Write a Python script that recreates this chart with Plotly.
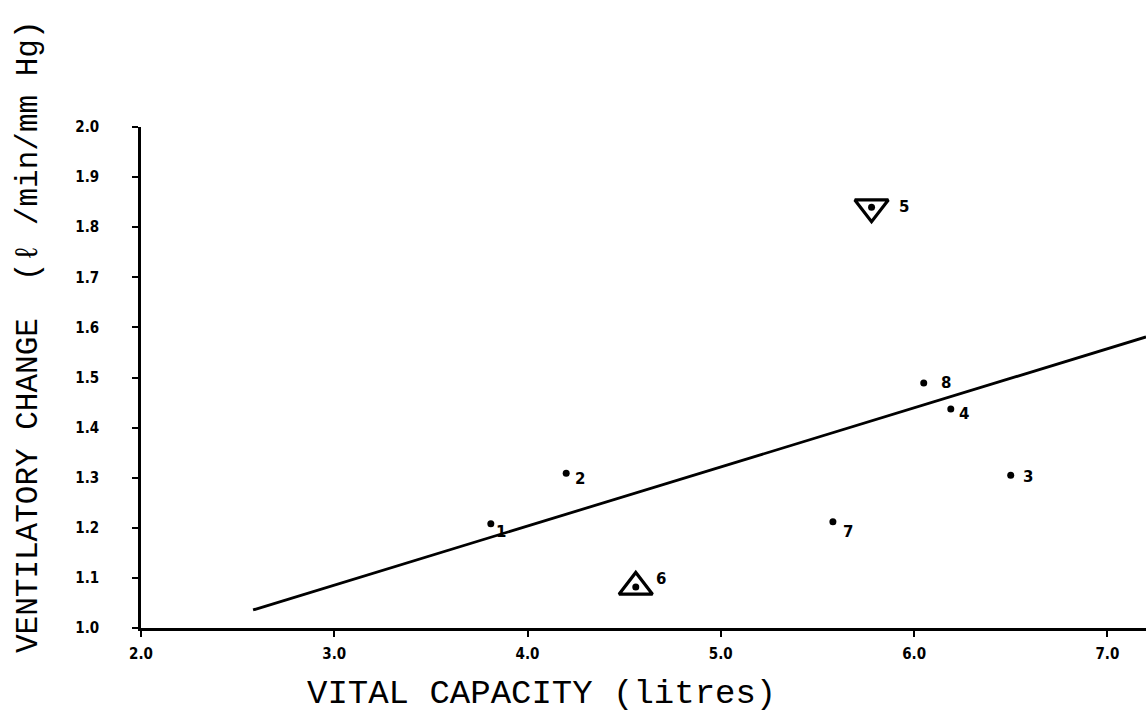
import plotly.graph_objects as go

# ---- data ----
subjects = ["1", "2", "3", "4", "5", "6", "7", "8"]
vital_capacity = [3.81, 4.20, 6.50, 6.19, 5.78, 4.56, 5.58, 6.05]
vent_change = [1.208, 1.309, 1.305, 1.437, 1.840, 1.082, 1.212, 1.489]
marker_kind = ["dot", "dot", "dot", "dot", "down", "up", "dot", "dot"]

fit_x = [2.58, 7.20]
fit_y = [1.036, 1.581]

x_ticks = [2.0, 3.0, 4.0, 5.0, 6.0, 7.0]
x_tick_text = ["2.0", "3.0", "4.0", "5.0", "6.0", "7.0"]
y_ticks = [1.0, 1.1, 1.2, 1.3, 1.4, 1.5, 1.6, 1.7, 1.8, 1.9, 2.0]
y_tick_text = ["1.0", "1.1", "1.2", "1.3", "1.4", "1.5", "1.6", "1.7", "1.8", "1.9", "2.0"]

# label offsets (style, in pixels)
label_dx = [10, 14, 17, 13, 32, 25, 15, 22]
label_dy = [-8, -6, -2, -5, 0, 8, -10, 0]

MONO = "Liberation Mono, Courier New, monospace"

fig = go.Figure()

fig.add_trace(go.Scatter(
    x=fit_x, y=fit_y, mode="lines",
    line=dict(color="black", width=2.8),
    hoverinfo="skip", showlegend=False,
))

# triangles around subjects 5 and 6
for kind, sym in (("down", "triangle-down-open"), ("up", "triangle-up-open")):
    xs = [x for x, k in zip(vital_capacity, marker_kind) if k == kind]
    ys = [y for y, k in zip(vent_change, marker_kind) if k == kind]
    fig.add_trace(go.Scatter(
        x=xs, y=ys, mode="markers",
        marker=dict(symbol=sym, size=29, color="black",
                    line=dict(color="black", width=3.2)),
        showlegend=False, hoverinfo="skip",
    ))

fig.add_trace(go.Scatter(
    x=vital_capacity, y=vent_change, mode="markers",
    marker=dict(symbol="circle", size=7, color="black"),
    showlegend=False,
))

for s, x, y, dx, dy in zip(subjects, vital_capacity, vent_change, label_dx, label_dy):
    fig.add_annotation(
        x=x, y=y, text=s, showarrow=False,
        xshift=dx, yshift=dy, xanchor="center", yanchor="middle",
        font=dict(family="DejaVu Sans, sans-serif", size=15, color="black", weight="bold"),
    )

fig.update_xaxes(
    range=[2.0, 7.2], tickvals=x_ticks, ticktext=x_tick_text,
    showline=True, linecolor="black", linewidth=2.5,
    ticks="outside", ticklen=6, tickwidth=2, tickcolor="black",
    showgrid=False, zeroline=False, ticklabelstandoff=4,
    tickfont=dict(family="DejaVu Sans Condensed, DejaVu Sans, sans-serif", size=15, color="black", weight="bold"),
)
fig.update_yaxes(
    range=[1.0, 2.0], tickvals=y_ticks, ticktext=y_tick_text,
    showline=True, linecolor="black", linewidth=2.5,
    ticks="outside", ticklen=6, tickwidth=2, tickcolor="black",
    showgrid=False, zeroline=False, ticklabelstandoff=30,
    tickfont=dict(family="DejaVu Sans Condensed, DejaVu Sans, sans-serif", size=15, color="black", weight="bold"),
)

fig.add_annotation(
    text="VITAL CAPACITY (litres)", xref="paper", yref="paper",
    x=(541 - 141) / (1146 - 141), y=-(694 - 628) / (628 - 127),
    showarrow=False, xanchor="center", yanchor="middle",
    font=dict(family=MONO, size=34, color="black"),
)
fig.add_annotation(
    text="VENTILATORY CHANGE  (\u2113 /min/mm Hg)", xref="paper", yref="paper",
    x=-(141 - 28) / (1146 - 141), y=(628 - 337) / (628 - 127),
    showarrow=False, xanchor="center", yanchor="middle", textangle=-90,
    font=dict(family=MONO, size=31, color="black"),
)

fig.update_layout(
    width=1146, height=717,
    margin=dict(l=141, r=0, t=127, b=89),
    plot_bgcolor="white", paper_bgcolor="white",
    showlegend=False,
)

fig.write_html("out.html")
